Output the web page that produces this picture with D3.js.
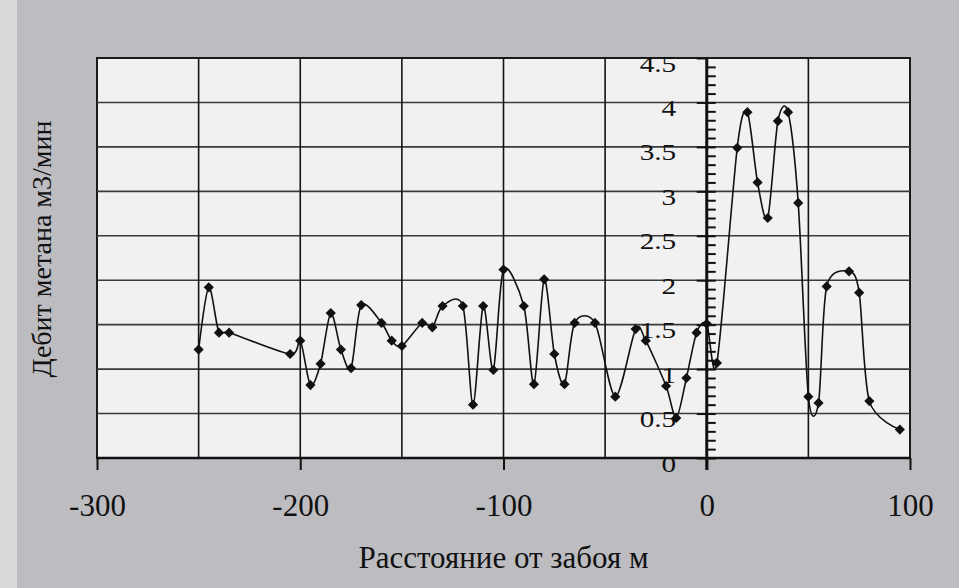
<!DOCTYPE html>
<html>
<head>
<meta charset="utf-8">
<script src="https://cdn.jsdelivr.net/npm/d3@7"></script>
<style>
  body { margin: 0; background: #bdbdc1; }
  svg text { font-family: "Liberation Serif", "Times New Roman", serif; fill: #111; }
</style>
</head>
<body>
<script>
// distance from the face, m
var dist = [-250, -245, -240, -235, -205, -200, -195, -190, -185, -180, -175, -170,
  -160, -155, -150, -140, -135, -130, -120, -115, -110, -105, -100, -90, -85, -80,
  -75, -70, -65, -55, -45, -35, -30, -20, -15, -10, -5, 0, 5, 15, 20, 25, 30, 35,
  40, 45, 50, 55, 59, 70, 75, 80, 95];

// methane flow, m3/min
var methane = [1.22, 1.92, 1.41, 1.41, 1.17, 1.32, 0.82, 1.06, 1.63, 1.22, 1.01, 1.72,
  1.52, 1.32, 1.26, 1.52, 1.47, 1.71, 1.71, 0.60, 1.71, 0.99, 2.12, 1.71, 0.83, 2.01,
  1.17, 0.83, 1.52, 1.52, 0.69, 1.45, 1.32, 0.81, 0.45, 0.90, 1.41, 1.51, 1.07, 3.49,
  3.89, 3.10, 2.70, 3.79, 3.89, 2.87, 0.69, 0.62, 1.93, 2.10, 1.86, 0.64, 0.32];

var xTicks = [-300, -200, -100, 0, 100];
var yTicks = [0, 0.5, 1, 1.5, 2, 2.5, 3, 3.5, 4, 4.5];

var svgWidth = 959;
var svgHeight = 588;

var svg = d3.select("body")
  .append("svg")
  .attr("width", svgWidth)
  .attr("height", svgHeight);

// scanned page look: light strip on the left
svg.append("rect")
  .attr("width", 17).attr("height", svgHeight)
  .attr("fill", "#d9d9dc");

var x = d3.scaleLinear().domain([-300, 100]).range([97, 910]);
var y = d3.scaleLinear().domain([0, 4.5]).range([458, 58]);

// plot area
svg.append("rect")
  .attr("x", x(-300)).attr("y", y(4.5))
  .attr("width", x(100) - x(-300)).attr("height", y(0) - y(4.5))
  .attr("fill", "#f1f1f2")
  .attr("stroke", "#1a1a1a")
  .attr("stroke-width", 2);

// grid
svg.append("g").selectAll("line")
  .data(yTicks.slice(1, -1))
  .enter().append("line")
  .attr("x1", x(-300)).attr("x2", x(100))
  .attr("y1", d => y(d)).attr("y2", d => y(d))
  .attr("stroke", "#3a3a3a").attr("stroke-width", 1.6);

svg.append("g").selectAll("line")
  .data(d3.range(-250, 100, 50))
  .enter().append("line")
  .attr("x1", d => x(d)).attr("x2", d => x(d))
  .attr("y1", y(4.5)).attr("y2", y(0))
  .attr("stroke", "#141414").attr("stroke-width", 1.6);

// x axis
var xAxis = svg.append("g")
  .attr("transform", `translate(0, ${y(0)})`)
  .call(d3.axisBottom(x).tickValues(xTicks).tickSize(12).tickPadding(24)
    .tickFormat(d => String(d)));
xAxis.select(".domain").remove();
xAxis.selectAll(".tick line").attr("stroke", "#111").attr("stroke-width", 2);
xAxis.selectAll("text").style("font-size", "31px");

svg.append("line")
  .attr("x1", x(-300)).attr("x2", x(100))
  .attr("y1", y(0)).attr("y2", y(0))
  .attr("stroke", "#111").attr("stroke-width", 2.6);

// y axis sits at x = 0
var yAxis = svg.append("g")
  .attr("transform", `translate(${x(0)}, 0)`)
  .call(d3.axisLeft(y).tickValues(yTicks).tickSize(10).tickPadding(20)
    .tickFormat(d => String(d)));
yAxis.select(".domain").remove();
yAxis.selectAll(".tick line").attr("stroke", "#111").attr("stroke-width", 2);
// labels in the scan are wider than the font, stretch them a bit
yAxis.selectAll("text")
  .style("font-size", "24px")
  .attr("x", -25)
  .attr("dy", "13px")
  .attr("transform", "scale(1.22, 1)");

var yMinor = svg.append("g")
  .attr("transform", `translate(${x(0)}, 0)`)
  .call(d3.axisRight(y).tickValues(d3.range(0, 45).map(d => d / 10)).tickSize(9)
    .tickFormat(""));
yMinor.select(".domain").remove();
yMinor.selectAll(".tick line").attr("stroke", "#111").attr("stroke-width", 2);

svg.append("line")
  .attr("x1", x(0)).attr("x2", x(0))
  .attr("y1", y(4.5)).attr("y2", y(0) + 12)
  .attr("stroke", "#111").attr("stroke-width", 3);

// axis titles
svg.append("text")
  .attr("transform", `translate(51, ${249}) rotate(-90)`)
  .attr("text-anchor", "middle")
  .style("font-size", "28px")
  .text("Дебит метана м3/мин");

svg.append("text")
  .attr("x", x(-100)).attr("y", 568)
  .attr("text-anchor", "middle")
  .style("font-size", "31px")
  .text("Расстояние от забоя м");

// series
var data = dist.map((d, i) => ({ d: d, q: methane[i] }));

var line = d3.line()
  .x(p => x(p.d))
  .y(p => y(p.q))
  .curve(d3.curveCardinal.tension(0.15));

svg.append("path")
  .datum(data)
  .attr("d", line)
  .attr("fill", "none")
  .attr("stroke", "#111")
  .attr("stroke-width", 1.6);

svg.append("g").selectAll("path")
  .data(data)
  .enter().append("path")
  .attr("d", d3.symbol(d3.symbolSquare, 52))
  .attr("transform", p => `translate(${x(p.d)}, ${y(p.q)}) rotate(45)`)
  .attr("fill", "#111");
</script>
</body>
</html>
